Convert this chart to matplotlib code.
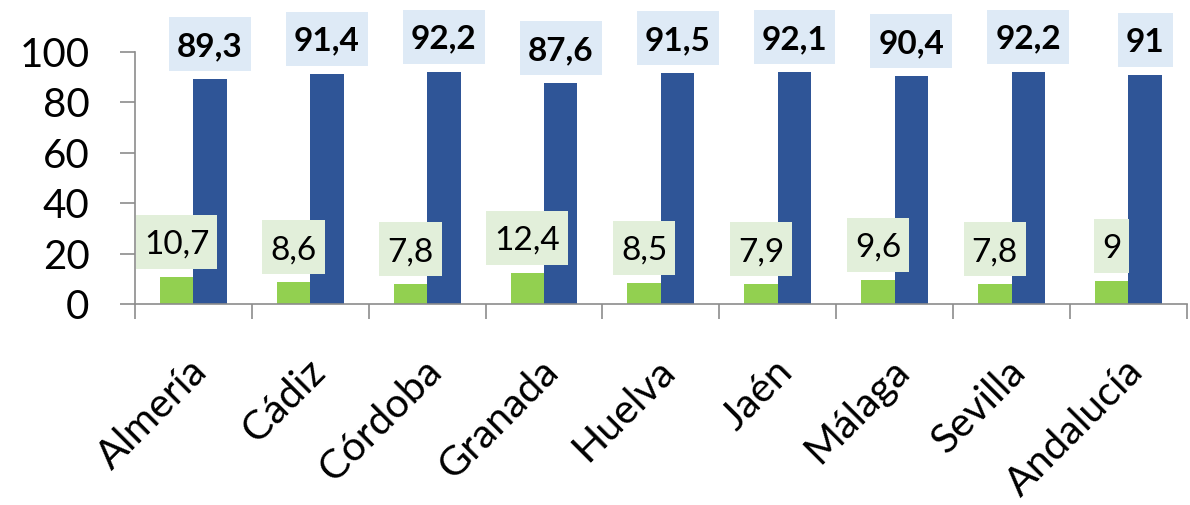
import matplotlib.pyplot as plt
from matplotlib.patches import Rectangle
import numpy as np

provincias = ["Almería", "Cádiz", "Córdoba", "Granada", "Huelva",
              "Jaén", "Málaga", "Sevilla", "Andalucía"]
serie_verde = [10.7, 8.6, 7.8, 12.4, 8.5, 7.9, 9.6, 7.8, 9]
serie_azul = [89.3, 91.4, 92.2, 87.6, 91.5, 92.1, 90.4, 92.2, 91]
yticks = [0, 20, 40, 60, 80, 100]

plt.rcParams['font.family'] = ['Lato', 'DejaVu Sans']

verde = "#92D050"
azul = "#2F5597"
gris = "#8C8C8C"
fondo_verde = "#E2EFDA"
fondo_azul = "#DEEAF6"


def fmt(v):
    # coma decimal, sin ",0"
    return f"{v:g}".replace(".", ",")


fig = plt.figure(figsize=(11.9, 5.05), dpi=100)
ax = fig.add_axes([0.1134, 0.398, 0.884, 0.499])

x = np.arange(len(provincias))
w = 0.286
bars_v = ax.bar(x - w/2, serie_verde, w, color=verde, zorder=2)
bars_a = ax.bar(x + w/2, serie_azul, w, color=azul, zorder=2)

# data labels, baseline ~23 px above the bar top
etiquetas = []
for bars, vals, peso, fondo in [(bars_v, serie_verde, "normal", fondo_verde),
                                (bars_a, serie_azul, "bold", fondo_azul)]:
    for b, v in zip(bars, vals):
        xc = b.get_x() + b.get_width()/2
        t = ax.annotate(fmt(v), (xc, v), xytext=(0, 16.6), textcoords="offset points",
                        ha="center", va="baseline", fontsize=24, fontweight=peso,
                        annotation_clip=False, zorder=5)
        etiquetas.append((t, xc, v, fondo))

ax.set_xlim(-0.5, len(provincias) - 0.5)
ax.set_ylim(0, 100)
ax.set_yticks(yticks)
ax.tick_params(axis="y", length=10.8, width=1.2, color=gris, labelsize=29, pad=22)

# category labels end a little right of the category centre
ax.set_xticks(x + 0.14)
ax.set_xticklabels(provincias, rotation=45, ha="right", va="baseline",
                   rotation_mode="anchor", fontsize=29.5)
ax.set_xticks(np.arange(len(provincias) + 1) - 0.5, minor=True)
ax.tick_params(axis="x", which="major", length=0, pad=50)
ax.tick_params(axis="x", which="minor", length=10.8, width=1.2, color=gris)

for s in ["top", "right"]:
    ax.spines[s].set_visible(False)
for s in ["left", "bottom"]:
    ax.spines[s].set_color(gris)
    ax.spines[s].set_linewidth(1.2)

# label backgrounds: 54 px tall, 8 px side padding
fig.canvas.draw()
rend = fig.canvas.get_renderer()
inv = ax.transData.inverted()
for t, xc, v, fondo in etiquetas:
    bb = t.get_window_extent(rend)
    px, py = ax.transData.transform((xc, v))
    x0, y0 = inv.transform((bb.x0 - 8, py + 8))
    x1, y1 = inv.transform((bb.x1 + 8, py + 62))
    ax.add_patch(Rectangle((x0, y0), x1 - x0, y1 - y0, facecolor=fondo,
                           edgecolor="none", clip_on=False, zorder=4))

fig.savefig("out.png", dpi=100)
